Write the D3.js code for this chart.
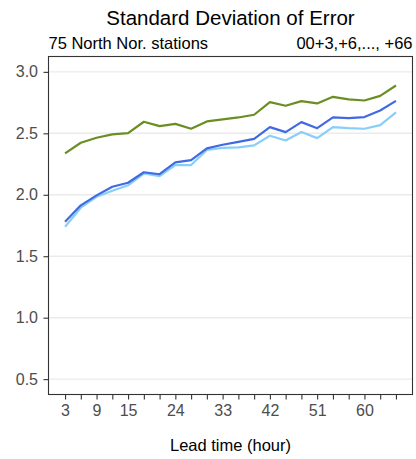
<!DOCTYPE html>
<html>
<head>
<meta charset="utf-8">
<script src="https://cdn.jsdelivr.net/npm/d3@7"></script>
<style>
  html, body { margin: 0; padding: 0; background: #fff; }
  svg { display: block; font-family: "Liberation Sans", Arial, Helvetica, sans-serif; }
</style>
</head>
<body>
<svg id="chart" width="416" height="459"></svg>
<script>
const title = "Standard Deviation of Error";
const subLeft = "75 North Nor. stations";
const subRight = "00+3,+6,..., +66";
const xTitle = "Lead time (hour)";

const leadTimes = [3, 6, 9, 12, 15, 18, 21, 24, 27, 30, 33, 36, 39, 42, 45, 48, 51, 54, 57, 60, 63, 66];
const xTickLabels = [3, 9, 15, 24, 33, 42, 51, 60];
const yTicks = [0.5, 1.0, 1.5, 2.0, 2.5, 3.0];

const seriesGreen = [2.337, 2.423, 2.464, 2.491, 2.502, 2.594, 2.559, 2.577, 2.537, 2.597, 2.613, 2.629, 2.651, 2.754, 2.724, 2.762, 2.743, 2.797, 2.776, 2.767, 2.805, 2.889];
const seriesBlue = [1.781, 1.914, 1.995, 2.065, 2.098, 2.183, 2.167, 2.264, 2.282, 2.377, 2.407, 2.431, 2.455, 2.550, 2.510, 2.591, 2.542, 2.629, 2.624, 2.632, 2.686, 2.764];
const seriesLight = [1.740, 1.895, 1.984, 2.033, 2.077, 2.173, 2.152, 2.242, 2.242, 2.364, 2.382, 2.385, 2.402, 2.480, 2.442, 2.510, 2.461, 2.550, 2.542, 2.537, 2.567, 2.670];

const series = [
  { name: "light", values: seriesLight, color: "#87cefa" },
  { name: "blue", values: seriesBlue, color: "#4169e1" },
  { name: "green", values: seriesGreen, color: "#6b8e23" }
];

const svg = d3.select("#chart");
const m = { left: 48.5, right: 412.5, top: 56.5, bottom: 394.5 };

const x = d3.scaleLinear().domain([3 - 3.15, 66 + 3.15]).range([m.left, m.right]);
const y = d3.scaleLinear().domain([0.375, 3.125]).range([m.bottom, m.top]);

// gridlines
svg.append("g").selectAll("line").data(yTicks).join("line")
  .attr("x1", m.left).attr("x2", m.right)
  .attr("y1", d => y(d)).attr("y2", d => y(d))
  .attr("stroke", "#ebebeb").attr("stroke-width", 1.4);

// lines
const line = d3.line().x((d, i) => x(leadTimes[i])).y(d => y(d));
svg.append("g").selectAll("path").data(series).join("path")
  .attr("d", d => line(d.values))
  .attr("fill", "none")
  .attr("stroke", d => d.color)
  .attr("stroke-width", 2.2)
  .attr("stroke-linejoin", "round");

// panel border
svg.append("rect")
  .attr("x", m.left).attr("y", m.top)
  .attr("width", m.right - m.left).attr("height", m.bottom - m.top)
  .attr("fill", "none").attr("stroke", "#333333").attr("stroke-width", 1.1);

// y axis
const yAxis = d3.axisLeft(y).tickValues(yTicks).tickFormat(d3.format(".1f")).tickSize(5).tickPadding(5.5);
const gy = svg.append("g").attr("transform", `translate(${m.left},0)`).call(yAxis);
gy.select(".domain").remove();
gy.selectAll(".tick line").attr("stroke", "#333333").attr("stroke-width", 1.1);
gy.selectAll(".tick text").attr("fill", "#4d4d4d").style("font-size", "16px")
  .style("font-family", "'Liberation Sans', Arial, sans-serif");

// x axis
const xAxis = d3.axisBottom(x).tickValues(leadTimes)
  .tickFormat(d => xTickLabels.includes(d) ? d : "").tickSize(5).tickPadding(5);
const gx = svg.append("g").attr("transform", `translate(0,${m.bottom})`).call(xAxis);
gx.select(".domain").remove();
gx.selectAll(".tick line").attr("stroke", "#333333").attr("stroke-width", 1.1);
gx.selectAll(".tick text").attr("fill", "#4d4d4d").style("font-size", "16px")
  .style("font-family", "'Liberation Sans', Arial, sans-serif");

// titles
svg.append("text").attr("x", (m.left + m.right) / 2).attr("y", 24.5)
  .attr("text-anchor", "middle").style("font-size", "20.5px").attr("fill", "#000").text(title);
svg.append("text").attr("x", m.left).attr("y", 48.5)
  .attr("text-anchor", "start").style("font-size", "16.5px").attr("fill", "#000").text(subLeft);
svg.append("text").attr("x", m.right).attr("y", 48.5)
  .attr("text-anchor", "end").style("font-size", "16.5px").attr("fill", "#000").text(subRight);
svg.append("text").attr("x", (m.left + m.right) / 2).attr("y", 451)
  .attr("text-anchor", "middle").style("font-size", "16.5px").attr("fill", "#000").text(xTitle);
</script>
</body>
</html>
